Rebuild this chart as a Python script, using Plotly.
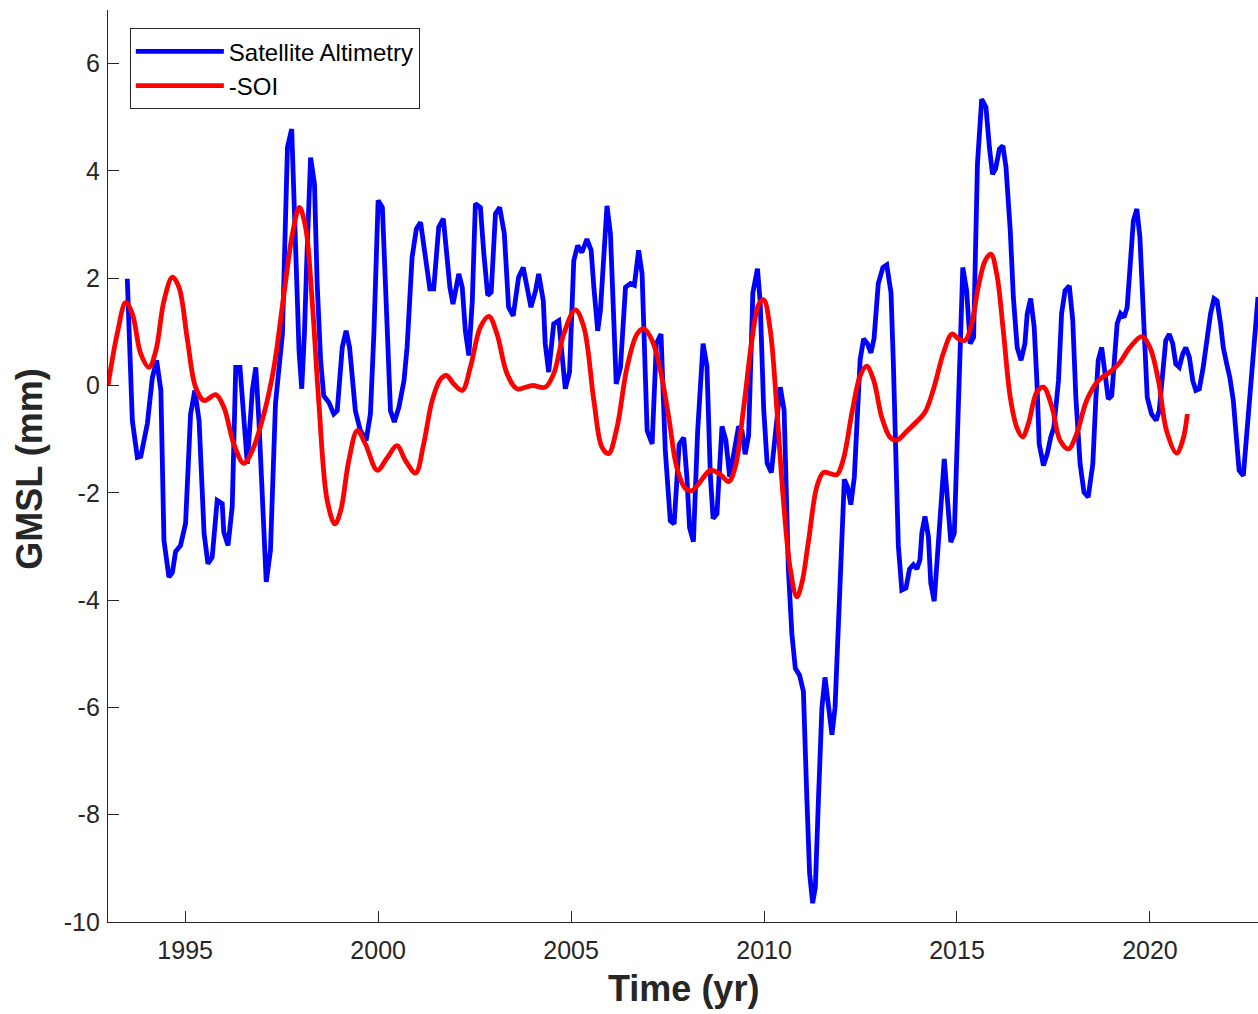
import plotly.graph_objects as go

# Satellite altimetry GMSL anomaly (mm)
alt_year = [1993.50, 1993.63, 1993.76, 1993.85, 1994.02, 1994.15, 1994.26, 1994.37, 1994.45, 1994.58,
            1994.67, 1994.75, 1994.88, 1995.01, 1995.14, 1995.25, 1995.36, 1995.49, 1995.59, 1995.70,
            1995.83, 1995.96, 1996.00, 1996.11, 1996.22, 1996.31, 1996.42, 1996.52, 1996.61, 1996.74,
            1996.83, 1996.91, 1997.04, 1997.10, 1997.21, 1997.34, 1997.52, 1997.60, 1997.65, 1997.76,
            1997.86, 1997.95, 1998.02, 1998.09, 1998.16, 1998.25, 1998.35, 1998.42, 1998.51, 1998.59,
            1998.72, 1998.85, 1998.94, 1999.07, 1999.17, 1999.26, 1999.41, 1999.54, 1999.69, 1999.80,
            1999.89, 2000.00, 2000.11, 2000.20, 2000.32, 2000.42, 2000.54, 2000.67, 2000.75, 2000.88,
            2000.99, 2001.10, 2001.18, 2001.34, 2001.44, 2001.57, 2001.69, 2001.79, 2001.86, 2001.94,
            2002.09, 2002.18, 2002.26, 2002.35, 2002.44, 2002.52, 2002.65, 2002.74, 2002.84, 2002.93,
            2003.04, 2003.15, 2003.27, 2003.38, 2003.50, 2003.64, 2003.76, 2003.86, 2003.96, 2004.08,
            2004.16, 2004.28, 2004.33, 2004.42, 2004.55, 2004.68, 2004.77, 2004.85, 2004.96, 2005.07,
            2005.17, 2005.28, 2005.41, 2005.52, 2005.59, 2005.69, 2005.76, 2005.84, 2005.93, 2006.02,
            2006.09, 2006.17, 2006.28, 2006.41, 2006.54, 2006.64, 2006.75, 2006.84, 2006.97, 2007.10,
            2007.21, 2007.33, 2007.44, 2007.57, 2007.67, 2007.80, 2007.92, 2008.00, 2008.07, 2008.17,
            2008.28, 2008.42, 2008.52, 2008.61, 2008.68, 2008.78, 2008.91, 2009.01, 2009.11, 2009.23,
            2009.34, 2009.43, 2009.51, 2009.60, 2009.71, 2009.83, 2009.90, 2009.99, 2010.08, 2010.19,
            2010.29, 2010.42, 2010.52, 2010.63, 2010.72, 2010.81, 2010.92, 2011.02, 2011.11, 2011.18,
            2011.26, 2011.33, 2011.41, 2011.50, 2011.58, 2011.67, 2011.76, 2011.84, 2011.93, 2012.02,
            2012.08, 2012.16, 2012.25, 2012.34, 2012.42, 2012.49, 2012.58, 2012.68, 2012.77, 2012.85,
            2012.96, 2013.08, 2013.18, 2013.29, 2013.35, 2013.42, 2013.48, 2013.57, 2013.68, 2013.77,
            2013.87, 2013.96, 2014.04, 2014.09, 2014.17, 2014.26, 2014.32, 2014.41, 2014.49, 2014.56,
            2014.67, 2014.75, 2014.84, 2014.93, 2015.04, 2015.15, 2015.25, 2015.34, 2015.43, 2015.53,
            2015.64, 2015.75, 2015.84, 2015.92, 2016.00, 2016.10, 2016.19, 2016.27, 2016.38, 2016.46,
            2016.56, 2016.66, 2016.76, 2016.82, 2016.91, 2017.00, 2017.07, 2017.13, 2017.24, 2017.34,
            2017.43, 2017.51, 2017.63, 2017.71, 2017.80, 2017.91, 2018.00, 2018.08, 2018.19, 2018.29,
            2018.40, 2018.52, 2018.60, 2018.66, 2018.75, 2018.83, 2018.92, 2019.01, 2019.09, 2019.15,
            2019.24, 2019.33, 2019.41, 2019.50, 2019.57, 2019.66, 2019.74, 2019.83, 2019.93, 2020.04,
            2020.16, 2020.24, 2020.33, 2020.41, 2020.50, 2020.59, 2020.67, 2020.76, 2020.85, 2020.93,
            2021.02, 2021.11, 2021.19, 2021.28, 2021.38, 2021.47, 2021.57, 2021.66, 2021.74, 2021.83,
            2021.90, 2021.99, 2022.07, 2022.16, 2022.23, 2022.31, 2022.42, 2022.50, 2022.59, 2022.68,
            2022.80]
alt_gmsl = [1.99, -0.65, -1.34, -1.32, -0.71, 0.15, 0.47, -0.09, -2.89, -3.57,
            -3.48, -3.10, -2.98, -2.57, -0.53, -0.09, -0.65, -2.76, -3.32, -3.20,
            -2.14, -2.20, -2.73, -2.98, -2.25, 0.34, 0.34, -0.65, -1.46, -0.09,
            0.34, -0.65, -3.07, -3.66, -3.07, -0.34, 0.97, 2.70, 4.44, 4.78,
            2.83, 0.65, -0.06, 0.97, 2.52, 4.25, 3.76, 1.90, 0.47, -0.19,
            -0.31, -0.53, -0.47, 0.71, 1.02, 0.71, -0.47, -0.84, -1.02, -0.53,
            0.97, 3.45, 3.32, 1.50, -0.47, -0.68, -0.40, 0.09, 0.71, 2.39,
            2.92, 3.04, 2.64, 1.80, 1.80, 2.95, 3.11, 2.45, 1.83, 1.52,
            2.08, 1.83, 1.02, 0.56, 1.58, 3.39, 3.32, 2.45, 1.68, 1.74,
            3.20, 3.32, 2.83, 1.46, 1.30, 2.02, 2.20, 1.83, 1.46, 1.77,
            2.08, 1.58, 0.78, 0.25, 1.15, 1.21, 0.47, -0.06, 0.25, 2.33,
            2.61, 2.48, 2.73, 2.52, 1.83, 1.02, 1.40, 2.52, 3.35, 2.83,
            1.21, 0.03, 0.34, 1.83, 1.90, 1.87, 2.52, 2.08, -0.84, -1.09,
            0.78, 0.96, -1.20, -2.52, -2.58, -1.10, -0.97, -1.70, -2.65, -2.91,
            -0.85, 0.78, 0.36, -1.70, -2.48, -2.39, -0.76, -1.02, -1.70, -1.19,
            -0.76, -0.85, -1.28, -0.93, 1.73, 2.18, 1.56, -0.42, -1.45, -1.62,
            -0.85, -0.03, -0.46, -3.42, -4.62, -5.27, -5.40, -5.70, -7.71, -9.09,
            -9.65, -9.35, -7.71, -6.00, -5.44, -6.00, -6.51, -6.00, -4.28, -2.56,
            -1.75, -1.88, -2.22, -1.70, -0.42, 0.48, 0.87, 0.78, 0.61, 0.87,
            1.90, 2.20, 2.25, 1.73, 0.44, -1.28, -2.99, -3.81, -3.77, -3.42,
            -3.34, -3.42, -3.25, -2.74, -2.44, -2.82, -3.68, -4.02, -3.30, -2.50,
            -1.37, -2.08, -2.92, -2.76, 0.09, 2.20, 1.77, 0.78, 0.90, 4.13,
            5.34, 5.19, 4.44, 3.94, 4.04, 4.41, 4.47, 4.07, 2.89, 1.65,
            0.71, 0.47, 0.78, 1.34, 1.62, 1.09, 0.09, -1.09, -1.49, -1.27,
            -0.96, -0.78, 0.09, 1.34, 1.77, 1.86, 1.21, -0.22, -1.46, -1.99,
            -2.08, -1.46, -0.22, 0.47, 0.71, 0.22, -0.25, -0.19, 0.71, 1.15,
            1.34, 1.27, 1.46, 2.27, 3.07, 3.29, 2.76, 1.34, -0.22, -0.53,
            -0.65, -0.47, 0.22, 0.84, 0.96, 0.78, 0.40, 0.34, 0.59, 0.71,
            0.53, 0.09, -0.09, -0.06, 0.34, 0.84, 1.34, 1.62, 1.58, 1.15,
            0.71, 0.40, 0.15, -0.28, -1.02, -1.58, -1.68, -1.02, -0.22, 0.47,
            1.65]

# Negative Southern Oscillation Index (scaled, smoothed)
soi_year = [1993.00, 1993.24, 1993.46, 1993.63, 1993.85, 1994.06, 1994.24, 1994.45, 1994.67, 1994.84,
            1995.06, 1995.27, 1995.49, 1995.79, 1996.00, 1996.26, 1996.52, 1996.74, 1997.04, 1997.30,
            1997.56, 1997.78, 1997.96, 1998.12, 1998.29, 1998.46, 1998.68, 1998.88, 1999.03, 1999.24,
            1999.46, 1999.67, 1999.98, 2000.24, 2000.49, 2000.71, 2000.97, 2001.18, 2001.40, 2001.62,
            2001.77, 2001.96, 2002.18, 2002.39, 2002.65, 2002.87, 2003.08, 2003.34, 2003.60, 2003.99,
            2004.33, 2004.55, 2004.81, 2005.11, 2005.33, 2005.59, 2005.80, 2005.97, 2006.19, 2006.45,
            2006.71, 2006.88, 2007.10, 2007.31, 2007.53, 2007.74, 2007.96, 2008.13, 2008.35, 2008.61,
            2008.87, 2009.08, 2009.25, 2009.47, 2009.69, 2009.86, 2009.99, 2010.16, 2010.33, 2010.50,
            2010.68, 2010.85, 2010.98, 2011.15, 2011.37, 2011.54, 2011.71, 2011.89, 2012.06, 2012.28,
            2012.49, 2012.66, 2012.84, 2013.05, 2013.27, 2013.44, 2013.70, 2013.96, 2014.17, 2014.39,
            2014.65, 2014.87, 2015.04, 2015.21, 2015.38, 2015.55, 2015.73, 2015.88, 2016.03, 2016.20,
            2016.38, 2016.55, 2016.70, 2016.85, 2017.07, 2017.24, 2017.46, 2017.67, 2017.89, 2018.10,
            2018.36, 2018.66, 2018.96, 2019.22, 2019.48, 2019.79, 2020.00, 2020.22, 2020.43, 2020.69,
            2020.85, 2020.97]
soi_neg = [0.00, 0.97, 1.55, 1.34, 0.59, 0.34, 0.65, 1.58, 2.02, 1.83,
           0.84, -0.03, -0.28, -0.17, -0.40, -1.09, -1.45, -1.21, -0.53, 0.34,
           1.71, 2.83, 3.32, 2.95, 1.58, -0.28, -2.14, -2.58, -2.33, -1.40,
           -0.84, -1.09, -1.58, -1.34, -1.12, -1.40, -1.63, -1.09, -0.28, 0.12,
           0.19, 0.03, -0.09, 0.34, 1.09, 1.29, 0.96, 0.22, -0.06, 0.00,
           -0.03, 0.22, 0.96, 1.41, 1.09, -0.28, -1.15, -1.27, -0.78, 0.34,
           0.96, 1.06, 0.84, 0.30, -0.59, -1.53, -1.92, -1.96, -1.79, -1.58,
           -1.66, -1.79, -1.53, -0.42, 0.87, 1.51, 1.60, 1.04, -0.42, -2.13,
           -3.42, -3.94, -3.68, -2.91, -1.88, -1.62, -1.64, -1.66, -1.36, -0.50,
           0.18, 0.36, 0.10, -0.59, -0.97, -1.02, -0.85, -0.67, -0.50, -0.07,
           0.61, 0.96, 0.87, 0.84, 1.15, 1.83, 2.33, 2.45, 2.08, 1.02,
           -0.22, -0.78, -0.96, -0.71, -0.12, -0.03, -0.40, -1.02, -1.18, -0.90,
           -0.28, 0.09, 0.25, 0.43, 0.71, 0.91, 0.71, 0.09, -0.84, -1.26,
           -1.02, -0.53]

x_ticks = [1995, 2000, 2005, 2010, 2015, 2020]
y_ticks = [-10, -8, -6, -4, -2, 0, 2, 4, 6]

FONT = "Liberation Sans, Arial, Helvetica, sans-serif"
AXC = "#262626"

fig = go.Figure()
fig.add_trace(go.Scatter(x=alt_year, y=alt_gmsl, mode="lines", name="Satellite Altimetry",
                         line=dict(color="#0000FF", width=4.8)))
fig.add_trace(go.Scatter(x=soi_year, y=soi_neg, mode="lines", name="-SOI",
                         line=dict(color="#FF0000", width=4.8, shape="spline", smoothing=1.0)))

fig.update_layout(
    width=1258, height=1014,
    margin=dict(l=108, r=0, t=10, b=92),
    paper_bgcolor="white", plot_bgcolor="white",
    font=dict(family=FONT, color=AXC),
    showlegend=True,
    legend=dict(x=0.019, y=0.98, xanchor="left", yanchor="top",
                bgcolor="white", bordercolor="#262626", borderwidth=1,
                font=dict(size=24, color="black", family=FONT),
                tracegroupgap=0, itemwidth=88),
    xaxis=dict(range=[1993, 2022.8], tickvals=x_ticks, ticktext=[str(v) for v in x_ticks],
               showgrid=False, zeroline=False, showline=True, linecolor=AXC, linewidth=1.3,
               ticks="inside", ticklen=11, tickcolor=AXC, tickwidth=1,
               tickfont=dict(size=25, color=AXC, family=FONT), mirror=False,
               ticklabelstandoff=6),
    yaxis=dict(range=[-10, 7], tickvals=y_ticks, ticktext=[str(v) for v in y_ticks],
               showgrid=False, zeroline=False, showline=True, linecolor=AXC, linewidth=1.3,
               ticks="inside", ticklen=11, tickcolor=AXC, tickwidth=1,
               tickfont=dict(size=25, color=AXC, family=FONT), mirror=False,
               ticklabelstandoff=2),
    annotations=[
        dict(text="<b>Time (yr)</b>", x=0.5, y=-0.0724, xref="paper", yref="paper",
             xanchor="center", yanchor="middle", showarrow=False,
             font=dict(size=36, color=AXC, family=FONT)),
        dict(text="<b>GMSL (mm)</b>", x=-0.0678, y=0.496, xref="paper", yref="paper",
             xanchor="center", yanchor="middle", textangle=-90, showarrow=False,
             font=dict(size=36, color=AXC, family=FONT)),
    ],
)

# remove the default page margin so the figure fills the window exactly
fig.write_html(
    "out.html",
    config={"displayModeBar": False},
    post_script=("document.body.style.margin='0';"
                 "document.body.style.overflow='hidden';"
                 "document.documentElement.style.overflow='hidden';"),
)
